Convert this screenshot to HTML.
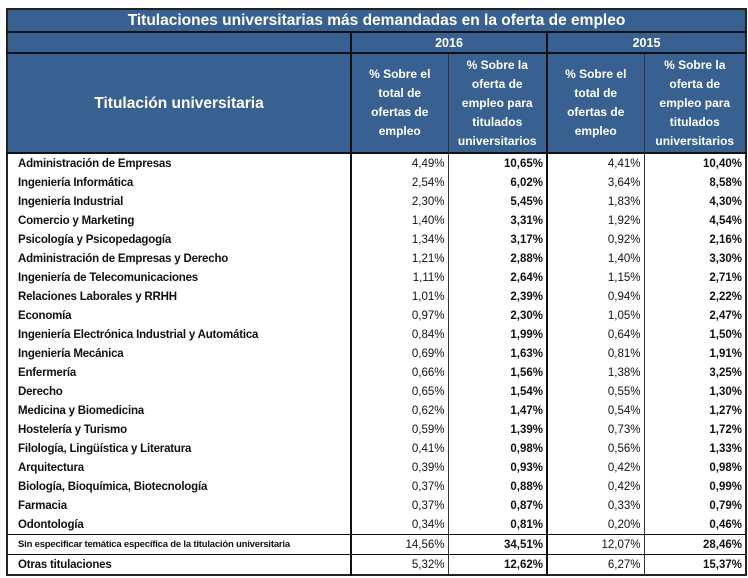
<!DOCTYPE html>
<html><head><meta charset="utf-8"><style>
html,body{margin:0;padding:0;background:#fff;width:748px;height:578px;overflow:hidden}
table{position:absolute;left:6px;top:8px;border-collapse:collapse;table-layout:fixed;font-family:"Liberation Sans",sans-serif;border:2px solid #222}
td{padding:0;overflow:hidden;white-space:nowrap}
.h{background:#386192;color:#fff;font-weight:bold;text-align:center}
.t{font-size:15.5px;height:21px;border-bottom:2px solid #111}
.y{font-size:12.5px;height:19px;border-bottom:2px solid #111}
.hd td{height:98px;font-size:12px;line-height:19px}
.d td{height:19px;font-size:11.5px;color:#111}
.d td.n{text-align:right;padding-right:3px;font-size:11.5px}
.d td.b{font-weight:bold}
.l{font-weight:bold;padding-left:10px!important;letter-spacing:-0.2px}
.L{border-left:2px solid #111}
.l1{border-left:1px solid #333}
.top td{border-top:2px solid #111}
.top1 td{border-top:1px solid #111}
.sm{font-size:9.5px!important;padding-left:10px!important;font-weight:bold;letter-spacing:-0.2px}
</style></head><body>
<table>
<colgroup><col style="width:344px"><col style="width:97px"><col style="width:99px"><col style="width:97px"><col style="width:102px"></colgroup>
<tr><td class="h t" colspan="5">Titulaciones universitarias más demandadas en la oferta de empleo</td></tr>
<tr><td class="h y"></td><td class="h y L" colspan="2">2016</td><td class="h y L" colspan="2">2015</td></tr>
<tr class="hd"><td class="h" style="font-size:15.5px">Titulación universitaria</td><td class="h L">% Sobre el<br>total de<br>ofertas de<br>empleo</td><td class="h l1">% Sobre la<br>oferta de<br>empleo para<br>titulados<br>universitarios</td><td class="h L">% Sobre el<br>total de<br>ofertas de<br>empleo</td><td class="h l1">% Sobre la<br>oferta de<br>empleo para<br>titulados<br>universitarios</td></tr>
<tr class="d top"><td class="l">Administración de Empresas</td><td class="n L">4,49%</td><td class="n b l1">10,65%</td><td class="n L">4,41%</td><td class="n b l1">10,40%</td></tr>
<tr class="d"><td class="l">Ingeniería Informática</td><td class="n L">2,54%</td><td class="n b l1">6,02%</td><td class="n L">3,64%</td><td class="n b l1">8,58%</td></tr>
<tr class="d"><td class="l">Ingeniería Industrial</td><td class="n L">2,30%</td><td class="n b l1">5,45%</td><td class="n L">1,83%</td><td class="n b l1">4,30%</td></tr>
<tr class="d"><td class="l">Comercio y Marketing</td><td class="n L">1,40%</td><td class="n b l1">3,31%</td><td class="n L">1,92%</td><td class="n b l1">4,54%</td></tr>
<tr class="d"><td class="l">Psicología y Psicopedagogía</td><td class="n L">1,34%</td><td class="n b l1">3,17%</td><td class="n L">0,92%</td><td class="n b l1">2,16%</td></tr>
<tr class="d"><td class="l">Administración de Empresas y Derecho</td><td class="n L">1,21%</td><td class="n b l1">2,88%</td><td class="n L">1,40%</td><td class="n b l1">3,30%</td></tr>
<tr class="d"><td class="l">Ingeniería de Telecomunicaciones</td><td class="n L">1,11%</td><td class="n b l1">2,64%</td><td class="n L">1,15%</td><td class="n b l1">2,71%</td></tr>
<tr class="d"><td class="l">Relaciones Laborales y RRHH</td><td class="n L">1,01%</td><td class="n b l1">2,39%</td><td class="n L">0,94%</td><td class="n b l1">2,22%</td></tr>
<tr class="d"><td class="l">Economía</td><td class="n L">0,97%</td><td class="n b l1">2,30%</td><td class="n L">1,05%</td><td class="n b l1">2,47%</td></tr>
<tr class="d"><td class="l">Ingeniería Electrónica Industrial y Automática</td><td class="n L">0,84%</td><td class="n b l1">1,99%</td><td class="n L">0,64%</td><td class="n b l1">1,50%</td></tr>
<tr class="d"><td class="l">Ingeniería Mecánica</td><td class="n L">0,69%</td><td class="n b l1">1,63%</td><td class="n L">0,81%</td><td class="n b l1">1,91%</td></tr>
<tr class="d"><td class="l">Enfermería</td><td class="n L">0,66%</td><td class="n b l1">1,56%</td><td class="n L">1,38%</td><td class="n b l1">3,25%</td></tr>
<tr class="d"><td class="l">Derecho</td><td class="n L">0,65%</td><td class="n b l1">1,54%</td><td class="n L">0,55%</td><td class="n b l1">1,30%</td></tr>
<tr class="d"><td class="l">Medicina y Biomedicina</td><td class="n L">0,62%</td><td class="n b l1">1,47%</td><td class="n L">0,54%</td><td class="n b l1">1,27%</td></tr>
<tr class="d"><td class="l">Hostelería y Turismo</td><td class="n L">0,59%</td><td class="n b l1">1,39%</td><td class="n L">0,73%</td><td class="n b l1">1,72%</td></tr>
<tr class="d"><td class="l">Filología, Lingüística y Literatura</td><td class="n L">0,41%</td><td class="n b l1">0,98%</td><td class="n L">0,56%</td><td class="n b l1">1,33%</td></tr>
<tr class="d"><td class="l">Arquitectura</td><td class="n L">0,39%</td><td class="n b l1">0,93%</td><td class="n L">0,42%</td><td class="n b l1">0,98%</td></tr>
<tr class="d"><td class="l">Biología, Bioquímica, Biotecnología</td><td class="n L">0,37%</td><td class="n b l1">0,88%</td><td class="n L">0,42%</td><td class="n b l1">0,99%</td></tr>
<tr class="d"><td class="l">Farmacia</td><td class="n L">0,37%</td><td class="n b l1">0,87%</td><td class="n L">0,33%</td><td class="n b l1">0,79%</td></tr>
<tr class="d"><td class="l">Odontología</td><td class="n L">0,34%</td><td class="n b l1">0,81%</td><td class="n L">0,20%</td><td class="n b l1">0,46%</td></tr>
<tr class="d top1"><td class="sm">Sin especificar temática específica de la titulación universitaria</td><td class="n L">14,56%</td><td class="n b l1">34,51%</td><td class="n L">12,07%</td><td class="n b l1">28,46%</td></tr>
<tr class="d top1"><td class="l">Otras titulaciones</td><td class="n L">5,32%</td><td class="n b l1">12,62%</td><td class="n L">6,27%</td><td class="n b l1">15,37%</td></tr>
</table>
</body></html>
